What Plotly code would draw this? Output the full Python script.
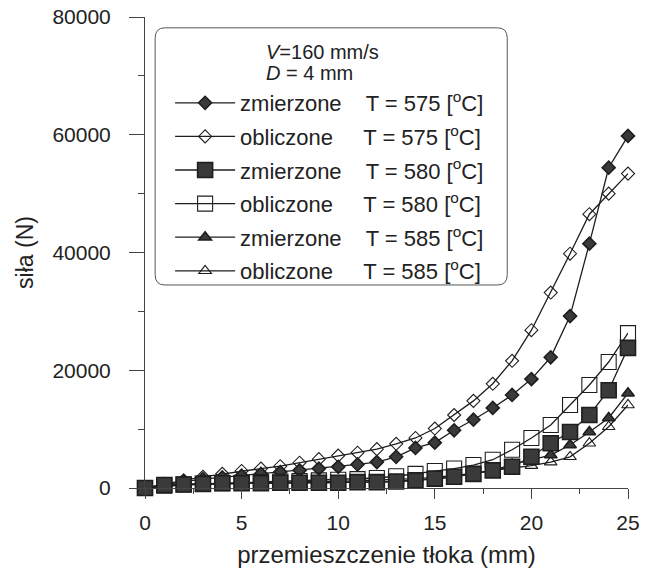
import plotly.graph_objects as go

x_mm = list(range(26))

meas_575 = [0, 600, 1100, 1500, 1800, 2100, 2400, 2700, 3000, 3300, 3600, 4000, 4400,
            5300, 6800, 7700, 9800, 11600, 13600, 15800, 18500, 22200, 29200, 41500, 54400, 59800]
calc_575 = [0, 700, 1300, 1900, 2400, 2900, 3300, 3700, 4300, 4900, 5500, 6000, 6600,
            7500, 8500, 10100, 12400, 14800, 17700, 21600, 26800, 33200, 39800, 46500, 50000, 53400]
meas_580 = [0, 500, 600, 700, 800, 800, 800, 900, 900, 900, 900, 1000, 1000,
            1100, 1300, 1600, 1900, 2400, 3000, 3600, 5300, 7600, 9500, 12400, 16600, 23800]
calc_580 = [0, 400, 600, 700, 800, 900, 1000, 1100, 1200, 1300, 1400, 1500, 1700,
            2000, 2400, 2900, 3300, 3900, 4800, 6500, 8500, 10700, 14100, 17500, 21400, 26300]
meas_585 = [0, 500, 600, 700, 700, 800, 800, 800, 900, 900, 900, 1000, 1000,
            1100, 1300, 1500, 1900, 2400, 3000, 4000, 4800, 5600, 7300, 9500, 11900, 16100]
calc_585 = [0, 300, 500, 600, 700, 800, 900, 900, 1000, 1100, 1100, 1200, 1300,
            1400, 1600, 1800, 2100, 2500, 3000, 3400, 3800, 4400, 5300, 7600, 10400, 14100]

legend_names = [
    "zmierzone    T = 575 [<sup>o</sup>C]",
    "obliczone     T = 575 [<sup>o</sup>C]",
    "zmierzone    T = 580 [<sup>o</sup>C]",
    "obliczone     T = 580 [<sup>o</sup>C]",
    "zmierzone    T = 585 [<sup>o</sup>C]",
    "obliczone     T = 585 [<sup>o</sup>C]",
]
legend_header = ["<i>V</i>=160 mm/s", "<i>D</i> = 4 mm"]

x_ticks = [0, 5, 10, 15, 20, 25]
y_ticks = [0, 20000, 40000, 60000, 80000]

LINE = "#1e1e1e"
FILL = "#3a3a3a"

series = [
    # (values, name index, symbol, size, filled) -- drawn in this order
    (calc_585, 5, "triangle-up-open", 11, False),
    (meas_585, 4, "triangle-up", 11, True),
    (calc_575, 1, "diamond-open", 10, False),
    (meas_575, 0, "diamond", 10, True),
    (calc_580, 3, "square-open", 15, False),
    (meas_580, 2, "square", 15, True),
]

fig = go.Figure()
for vals, idx, sym, size, filled in series:
    fig.add_trace(go.Scatter(
        x=x_mm, y=vals, mode="lines+markers", name=legend_names[idx],
        legendrank=idx + 1, legendgroup=f"g{idx}",
        line=dict(color=LINE, width=1.3),
        marker=dict(symbol=sym, size=size,
                    color=FILL if filled else LINE,
                    line=dict(color=LINE, width=1.6 if filled else 1.1)),
        cliponaxis=False,
    ))

fig.update_layout(
    width=660, height=574,
    margin=dict(l=145, r=32, t=17, b=86),
    paper_bgcolor="white", plot_bgcolor="white",
    font=dict(family="Liberation Sans, Arial, sans-serif", size=20, color="#222"),
    showlegend=True,
    legend=dict(
        x=0.052, y=0.862, xanchor="left", yanchor="top",
        bgcolor="rgba(0,0,0,0)", borderwidth=0,
        font=dict(size=22), tracegroupgap=2, itemwidth=60,
    ),
    xaxis=dict(
        range=[0, 25], tickvals=x_ticks, ticks="outside", ticklen=10, tickwidth=1,
        tickcolor="#444", showline=True, linecolor="#444", linewidth=1,
        showgrid=False, zeroline=False, automargin=False,
        tickfont=dict(size=21), ticklabelstandoff=6,
        minor=dict(dtick=2.5, ticks="outside", ticklen=5, tickcolor="#444"),
        title=dict(text="przemieszczenie tłoka (mm)", standoff=12),
    ),
    yaxis=dict(
        range=[0, 80000], tickvals=y_ticks, tickformat="d", ticks="outside",
        ticklen=15, tickwidth=1, ticklabeloverflow="allow",
        tickcolor="#444", showline=True, linecolor="#444", linewidth=1,
        showgrid=False, zeroline=False, automargin=False,
        tickfont=dict(size=21), ticklabelstandoff=14,
        minor=dict(dtick=10000, ticks="outside", ticklen=6, tickcolor="#444"),
        title=dict(text="siła (N)", standoff=12, font=dict(size=23)),
    ),
)

for i, txt in enumerate(legend_header):
    fig.add_annotation(
        text=txt, xref="paper", yref="paper", x=0.247, y=0.925 - i * 0.043,
        xanchor="left", yanchor="middle", showarrow=False, font=dict(size=20),
    )

# rounded legend frame
x0, x1, y0, y1, r = 0.021, 0.75, 0.431, 0.977, 0.02
fig.add_shape(
    type="path", xref="paper", yref="paper",
    path=(f"M {x0+r},{y1} L {x1-r},{y1} Q {x1},{y1} {x1},{y1-r*1.1} "
          f"L {x1},{y0+r*1.1} Q {x1},{y0} {x1-r},{y0} L {x0+r},{y0} "
          f"Q {x0},{y0} {x0},{y0+r*1.1} L {x0},{y1-r*1.1} Q {x0},{y1} {x0+r},{y1} Z"),
    line=dict(color="#555", width=1),
)

fig.write_html("out.html", config={"displayModeBar": False},
               post_script="document.body.style.margin='0';")
